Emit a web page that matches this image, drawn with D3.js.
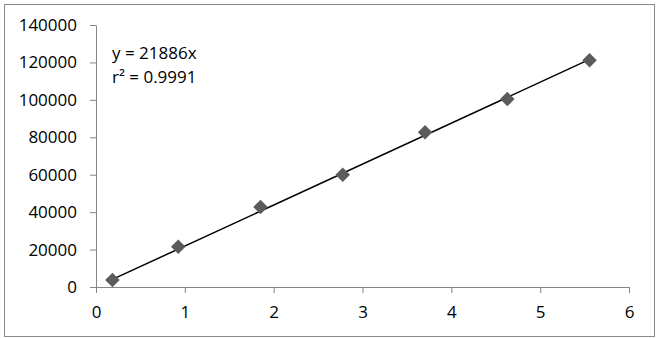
<!DOCTYPE html>
<html>
<head>
<meta charset="utf-8">
<script src="https://cdn.jsdelivr.net/npm/d3@7"></script>
<style>
  body { margin: 0; background: #fff; }
  text { font-family: "Open Sans", sans-serif; }
</style>
</head>
<body>
<script>
const WIDTH = 667;
const HEIGHT = 338;

// datos
const valoresX = [0.185, 0.926, 1.852, 2.778, 3.704, 4.63, 5.556];
const valoresY = [3800, 21500, 42800, 60000, 82700, 100400, 121100];
const pendiente = 21886;
const ticksX = [0, 1, 2, 3, 4, 5, 6];
const ticksY = [0, 20000, 40000, 60000, 80000, 100000, 120000, 140000];
const ecuacion = ["y = 21886x", "r² = 0.9991"];

const svg = d3
  .select("body")
  .append("svg")
  .attr("width", WIDTH)
  .attr("height", HEIGHT);

// marco exterior
svg
  .append("rect")
  .attr("x", 4.5)
  .attr("y", 4.5)
  .attr("width", 650)
  .attr("height", 332)
  .attr("fill", "#fff")
  .attr("stroke", "#8a8a8a");

const escalaX = d3.scaleLinear().domain([0, 6]).range([96, 629]);
const escalaY = d3.scaleLinear().domain([0, 140000]).range([287, 25]);

const ejeX = svg
  .append("g")
  .attr("transform", `translate(0,${escalaY(0)})`)
  .call(d3.axisBottom(escalaX).tickValues(ticksX).tickSize(6).tickSizeOuter(0).tickPadding(13).tickFormat(d3.format("d")));

const ejeY = svg
  .append("g")
  .attr("transform", `translate(${escalaX(0)},0)`)
  .call(d3.axisLeft(escalaY).tickValues(ticksY).tickSize(6).tickSizeOuter(0).tickPadding(13).tickFormat(d3.format("d")));

[ejeX, ejeY].forEach((eje) => {
  eje.select(".domain").attr("stroke", "#868686");
  eje.selectAll(".tick line").attr("stroke", "#868686");
  eje.selectAll(".tick text").attr("font-size", 17).attr("fill", "#000")
    .style("font-family", '"Open Sans", sans-serif');
});

// linea de tendencia
const xMin = d3.min(valoresX);
const xMax = d3.max(valoresX);
svg
  .append("line")
  .attr("x1", escalaX(xMin))
  .attr("y1", escalaY(pendiente * xMin))
  .attr("x2", escalaX(xMax))
  .attr("y2", escalaY(pendiente * xMax))
  .attr("stroke", "#000")
  .attr("stroke-width", 1.5);

// puntos en forma de rombo
const puntos = valoresX.map((x, i) => ({ x, y: valoresY[i] }));
const rombo = d3.symbol().type(d3.symbolSquare).size(105);
svg
  .selectAll("path.punto")
  .data(puntos)
  .join("path")
  .attr("class", "punto")
  .attr("d", rombo)
  .attr("transform", (d) => `translate(${escalaX(d.x)},${escalaY(d.y)}) rotate(45)`)
  .attr("fill", "#5b5b5b");

// ecuacion
svg
  .selectAll("text.ecuacion")
  .data(ecuacion)
  .join("text")
  .attr("class", "ecuacion")
  .attr("x", 112)
  .attr("y", (d, i) => 59 + i * 24)
  .attr("font-size", 17)
  .attr("fill", "#000")
  .text((d) => d);
</script>
</body>
</html>
